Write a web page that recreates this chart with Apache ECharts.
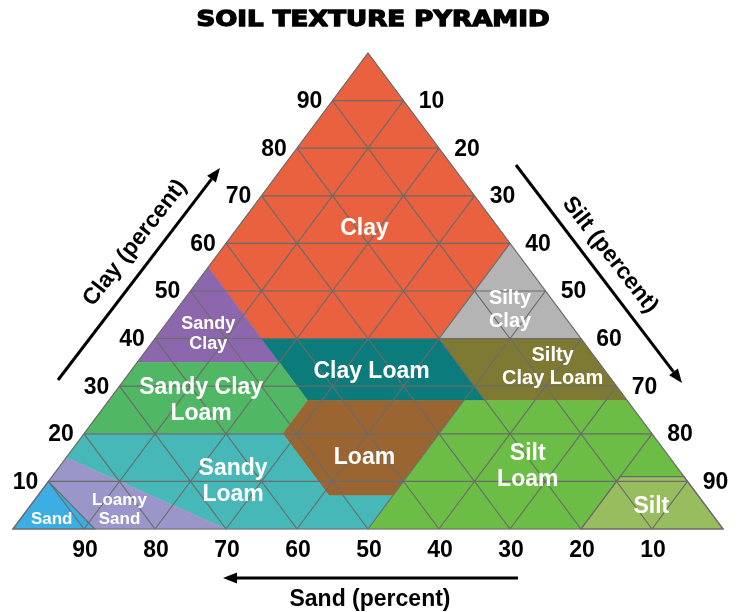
<!DOCTYPE html>
<html>
<head>
<meta charset="utf-8">
<script src="https://cdn.jsdelivr.net/npm/echarts@6/dist/echarts.min.js"></script>
<style>
  html, body { margin: 0; padding: 0; background: #fff; }
  #chart { width: 743px; height: 612px; }
</style>
</head>
<body>
<div id="chart"></div>
<script>
// every point is [sand, silt, clay] in percent
const clayPts = [[0, 0, 100], [45, 0, 55], [45, 15, 40], [20, 40, 40], [0, 40, 60]];
const siltyClayPts = [[0, 40, 60], [20, 40, 40], [0, 60, 40]];
const sandyClayPts = [[45, 0, 55], [65, 0, 35], [45, 20, 35], [45, 15, 40]];
const clayLoamPts = [[45, 15, 40], [20, 40, 40], [20, 53, 27], [45, 28, 27]];
const siltyClayLoamPts = [[20, 40, 40], [0, 60, 40], [0, 73, 27], [20, 53, 27]];
const sandyClayLoamPts = [[65, 0, 35], [80, 0, 20], [52, 28, 20], [45, 28, 27], [45, 20, 35]];
const loamPts = [[45, 28, 27], [52, 28, 20], [52, 41, 7], [43, 50, 7], [23, 50, 27]];
const siltLoamPts = [[50, 50, 0], [43, 50, 7], [23, 50, 27], [0, 73, 27], [0, 89, 11], [9, 80, 11], [20, 80, 0]];
const sandyLoamPts = [[85, 0, 15], [70, 30, 0], [50, 50, 0], [43, 50, 7], [52, 41, 7], [52, 28, 20], [80, 0, 20]];
const loamySandPts = [[90, 0, 10], [88.5, 11.5, 0], [70, 30, 0], [85, 0, 15]];
const sandPts = [[100, 0, 0], [88.5, 11.5, 0], [90, 0, 10]];
const siltPts = [[20, 80, 0], [9, 80, 11], [0, 89, 11], [0, 100, 0]];

const regionNames = ["Clay", "Silty Clay", "Sandy Clay", "Clay Loam", "Silty Clay Loam", "Sandy Clay Loam",
  "Loam", "Silt Loam", "Sandy Loam", "Loamy Sand", "Sand", "Silt"];
const regionPts = [clayPts, siltyClayPts, sandyClayPts, clayLoamPts, siltyClayLoamPts, sandyClayLoamPts,
  loamPts, siltLoamPts, sandyLoamPts, loamySandPts, sandPts, siltPts];
const regionText = ["Clay", "Silty\nClay", "Sandy\nClay", "Clay Loam", "Silty\nClay Loam", "Sandy Clay\nLoam",
  "Loam", "Silt\nLoam", "Sandy\nLoam", "Loamy\nSand", "Sand", "Silt"];
const labelAt = [[19, 18, 63], [7, 47, 46], [52, 7, 41], [33, 34, 33], [7, 59, 34], [60, 13, 27],
  [43, 42, 15], [21, 66, 13], [64, 26, 10], [83, 13, 4], [93.5, 4.4, 2.1], [8, 87.6, 4.6]];
const tickValues = [10, 20, 30, 40, 50, 60, 70, 80, 90];

const colors = ["#E9613F", "#B4B4B4", "#8D67AD", "#0B7B7B", "#7F7A33", "#50B764",
  "#9B6532", "#6BBD45", "#46B8B8", "#9A96C9", "#3DAEE3", "#98BD5F"];
const labelSize = [23, 20, 18, 23, 20, 23, 23, 23, 23, 17, 17, 23];
const gridColor = "#6b6b6b";

// ternary -> plane (x along the base, y = clay)
function toXY(p) {
  return [p[1] + p[2] / 2, p[2]];
}

function arrow(x1, y1, x2, y2) {
  const dx = x2 - x1, dy = y2 - y1;
  const len = Math.sqrt(dx * dx + dy * dy);
  const ux = dx / len, uy = dy / len;
  const hl = 14, hw = 5.5;
  const bx = x2 - ux * hl, by = y2 - uy * hl;
  return [
    { type: "polyline", shape: { points: [[x1, y1], [bx, by]] }, style: { stroke: "#000", lineWidth: 3 } },
    { type: "polygon", shape: { points: [[x2, y2], [bx - uy * hw, by + ux * hw], [bx + uy * hw, by - ux * hw]] },
      style: { fill: "#000" } }
  ];
}

const chart = echarts.init(document.getElementById("chart"));
const font = "Liberation Sans";

const option = {
  animation: false,
  grid: { left: 13, top: 53, width: 710, height: 476 },
  xAxis: { type: "value", min: 0, max: 100, show: false },
  yAxis: { type: "value", min: 0, max: 100, show: false },
  series: [
    {
      type: "custom",
      z: 1,
      silent: true,
      data: regionNames.map((n, i) => toXY(labelAt[i])),
      renderItem: function (params, api) {
        const i = params.dataIndex;
        const pts = regionPts[i].map(p => api.coord(toXY(p)));
        const edged = regionNames[i] === "Sand" || regionNames[i] === "Silt";
        return {
          type: "polygon",
          shape: { points: pts },
          style: { fill: colors[i], stroke: edged ? gridColor : colors[i], lineWidth: edged ? 1.2 : 0.5 }
        };
      }
    },
    {
      type: "custom",
      z: 2,
      silent: true,
      data: tickValues.map(t => [t, 0]),
      renderItem: function (params, api) {
        const t = tickValues[params.dataIndex];
        const segs = [
          [[t / 2, t], [100 - t / 2, t]],
          [[t, 0], [t + (100 - t) / 2, 100 - t]],
          [[100 - t, 0], [(100 - t) / 2, 100 - t]]
        ];
        const children = segs.map(s => ({
          type: "line",
          shape: (function () {
            const a = api.coord(s[0]), b = api.coord(s[1]);
            return { x1: a[0], y1: a[1], x2: b[0], y2: b[1] };
          })(),
          style: { stroke: gridColor, lineWidth: 1.2 }
        }));
        if (params.dataIndex === 0) {
          const a = api.coord([0, 0]), b = api.coord([100, 0]), c = api.coord([50, 100]);
          children.push({
            type: "polygon",
            shape: { points: [a, b, c] },
            style: { fill: null, stroke: gridColor, lineWidth: 1.2 }
          });
        }
        return { type: "group", children: children };
      }
    },
    {
      type: "custom",
      z: 3,
      silent: true,
      data: tickValues.map(t => [t, 0]),
      renderItem: function (params, api) {
        const t = tickValues[params.dataIndex];
        const left = api.coord([t / 2, t]);
        const right = api.coord([50 + t / 2, 100 - t]);
        const bottom = api.coord([100 - t, 0]);
        const st = { fill: "#000", fontFamily: font, fontWeight: "bold", fontSize: 23, align: "center", verticalAlign: "middle" };
        return {
          type: "group",
          children: [
            { type: "text", x: left[0] - 23, y: left[1] + 1, style: Object.assign({ text: String(t) }, st) },
            { type: "text", x: right[0] + 28, y: right[1] + 1, style: Object.assign({ text: String(t) }, st) },
            { type: "text", x: bottom[0] + 1, y: bottom[1] + 22, style: Object.assign({ text: String(t) }, st) }
          ]
        };
      }
    },
    {
      type: "custom",
      z: 4,
      silent: true,
      data: regionNames.map((n, i) => toXY(labelAt[i])),
      renderItem: function (params, api) {
        const i = params.dataIndex;
        const p = api.coord(toXY(labelAt[i]));
        return {
          type: "text",
          x: p[0],
          y: p[1],
          style: {
            text: regionText[i],
            fill: "#fff",
            fontFamily: font,
            fontWeight: "bold",
            fontSize: labelSize[i],
            lineHeight: Math.round(labelSize[i] * 1.13),
            align: "center",
            verticalAlign: "middle"
          }
        };
      }
    }
  ],
  graphic: [
    {
      type: "text", x: 373, y: 21, scaleX: 1.24,
      style: { text: "SOIL TEXTURE PYRAMID", fill: "#000", stroke: "#000", lineWidth: 1.3,
        fontFamily: "DejaVu Sans", fontWeight: "bold", fontSize: 21, align: "center", verticalAlign: "middle" }
    },
    {
      type: "text", x: 135, y: 243, rotation: 52 * Math.PI / 180,
      style: { text: "Clay (percent)", fill: "#000", fontFamily: font, fontWeight: "bold", fontSize: 23,
        align: "center", verticalAlign: "middle" }
    },
    {
      type: "text", x: 610, y: 255, rotation: -52 * Math.PI / 180,
      style: { text: "Silt (percent)", fill: "#000", fontFamily: font, fontWeight: "bold", fontSize: 23,
        align: "center", verticalAlign: "middle" }
    },
    {
      type: "text", x: 370, y: 600,
      style: { text: "Sand (percent)", fill: "#000", fontFamily: font, fontWeight: "bold", fontSize: 23,
        align: "center", verticalAlign: "middle" }
    }
  ].concat(arrow(58, 380, 220, 168), arrow(516, 165, 682, 383), arrow(518, 578, 223, 578))
};

chart.setOption(option);
</script>
</body>
</html>
